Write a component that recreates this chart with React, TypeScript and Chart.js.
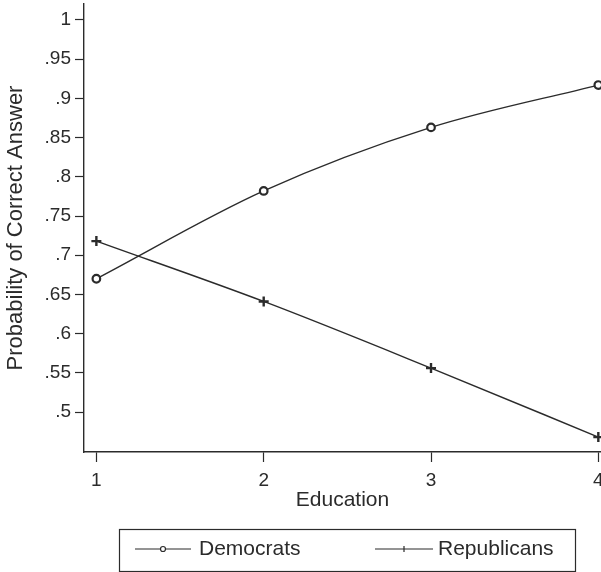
import React, { useEffect, useRef } from "react";
import { Chart, registerables } from "chart.js";

Chart.register(...registerables);

const education = [1, 2, 3, 4];
const democrats = [0.67, 0.782, 0.863, 0.917];
const republicans = [0.718, 0.641, 0.556, 0.468];
const yTicks = [0.5, 0.55, 0.6, 0.65, 0.7, 0.75, 0.8, 0.85, 0.9, 0.95, 1];
const seriesNames = ["Democrats", "Republicans"];

const INK = "#2b2b2b";
const FONT = "'Liberation Sans', Arial, Helvetica, sans-serif";

function fmt(v: number): string {
  if (Math.abs(v - 1) < 1e-9) return "1";
  return String(Math.round(v * 100) / 100).replace(/^0/, "");
}

const legendPlugin = {
  id: "boxLegend",
  afterDraw(chart: any) {
    const ctx = chart.ctx;
    ctx.save();
    ctx.strokeStyle = INK;
    ctx.lineWidth = 1.2;
    ctx.strokeRect(119.5, 529.5, 456, 42);
    const items = [
      { x0: 135, x1: 191, tx: 199, style: "circle" },
      { x0: 375, x1: 433, tx: 438, style: "cross" },
    ];
    const y = 549;
    ctx.font = `21px ${FONT}`;
    ctx.textBaseline = "middle";
    ctx.fillStyle = INK;
    items.forEach((it, i) => {
      ctx.beginPath();
      ctx.lineWidth = 1.2;
      ctx.moveTo(it.x0, y);
      ctx.lineTo(it.x1, y);
      ctx.stroke();
      const mx = (it.x0 + it.x1) / 2;
      ctx.beginPath();
      if (it.style === "circle") {
        ctx.fillStyle = "#fff";
        ctx.arc(mx, y, 2.5, 0, Math.PI * 2);
        ctx.fill();
        ctx.stroke();
      } else {
        ctx.moveTo(mx, y - 3);
        ctx.lineTo(mx, y + 3);
        ctx.stroke();
      }
      ctx.fillStyle = INK;
      ctx.fillText(chart.data.datasets[i].label, it.tx, y);
    });
    ctx.restore();
  },
};

export default function App() {
  const ref = useRef<HTMLCanvasElement | null>(null);

  useEffect(() => {
    document.body.style.margin = "0";
    const canvas = ref.current;
    if (!canvas) return;
    const chart = new Chart(canvas, {
      type: "line",
      data: {
        datasets: [
          {
            label: seriesNames[0],
            data: education.map((x, i) => ({ x, y: democrats[i] })),
            borderColor: INK,
            borderWidth: 1.4,
            cubicInterpolationMode: "monotone",
            pointStyle: "circle",
            pointRadius: 3.8,
            pointBorderWidth: 2.2,
            pointBackgroundColor: "#fff",
            pointBorderColor: INK,
            clip: false,
          },
          {
            label: seriesNames[1],
            data: education.map((x, i) => ({ x, y: republicans[i] })),
            borderColor: INK,
            borderWidth: 1.4,
            cubicInterpolationMode: "monotone",
            pointStyle: "cross",
            pointRadius: 5,
            pointBorderWidth: 2.4,
            pointBorderColor: INK,
            clip: false,
          },
        ],
      },
      options: {
        animation: false,
        responsive: false,
        layout: {
          autoPadding: false,
          padding: { top: 4, right: 0, bottom: 52, left: 0 },
        },
        plugins: { legend: { display: false }, tooltip: { enabled: false } },
        scales: {
          x: {
            type: "linear",
            min: 0.926,
            max: 4.016,
            afterFit: (s: any) => {
              s.height = 68;
              s.paddingLeft = 0;
              s.paddingRight = 0;
            },
            afterBuildTicks: (s: any) => {
              s.ticks = education.map((v) => ({ value: v }));
            },
            ticks: {
              color: INK,
              font: { family: FONT, size: 19 },
              padding: 7,
              maxRotation: 0,
              autoSkip: false,
              callback: (v: any) => String(v),
            },
            grid: {
              drawOnChartArea: false,
              tickLength: 10,
              tickColor: INK,
              tickWidth: 1.2,
            },
            border: { color: INK, width: 1.4 },
            title: {
              display: true,
              text: "Education",
              color: INK,
              font: { family: FONT, size: 21 },
              padding: { top: 0, bottom: 7 },
            },
          },
          y: {
            type: "linear",
            min: 0.449,
            max: 1.0204,
            afterFit: (s: any) => {
              s.width = 84;
              s.paddingTop = 0;
              s.paddingBottom = 0;
            },
            afterBuildTicks: (s: any) => {
              s.ticks = yTicks.map((v) => ({ value: v }));
            },
            ticks: {
              color: INK,
              font: { family: FONT, size: 19 },
              padding: 4,
              autoSkip: false,
              callback: (v: any) => fmt(Number(v)),
            },
            grid: {
              drawOnChartArea: false,
              tickLength: 9,
              tickColor: INK,
              tickWidth: 1.2,
            },
            border: { color: INK, width: 1.4 },
            title: {
              display: true,
              text: "Probability of Correct Answer",
              color: INK,
              font: { family: FONT, size: 22 },
              padding: { top: 3, bottom: 0 },
            },
          },
        },
      },
      plugins: [legendPlugin],
    } as any);
    return () => chart.destroy();
  }, []);

  return (
    <canvas
      ref={ref}
      width={601}
      height={572}
      style={{ display: "block", width: 601, height: 572 }}
    />
  );
}
